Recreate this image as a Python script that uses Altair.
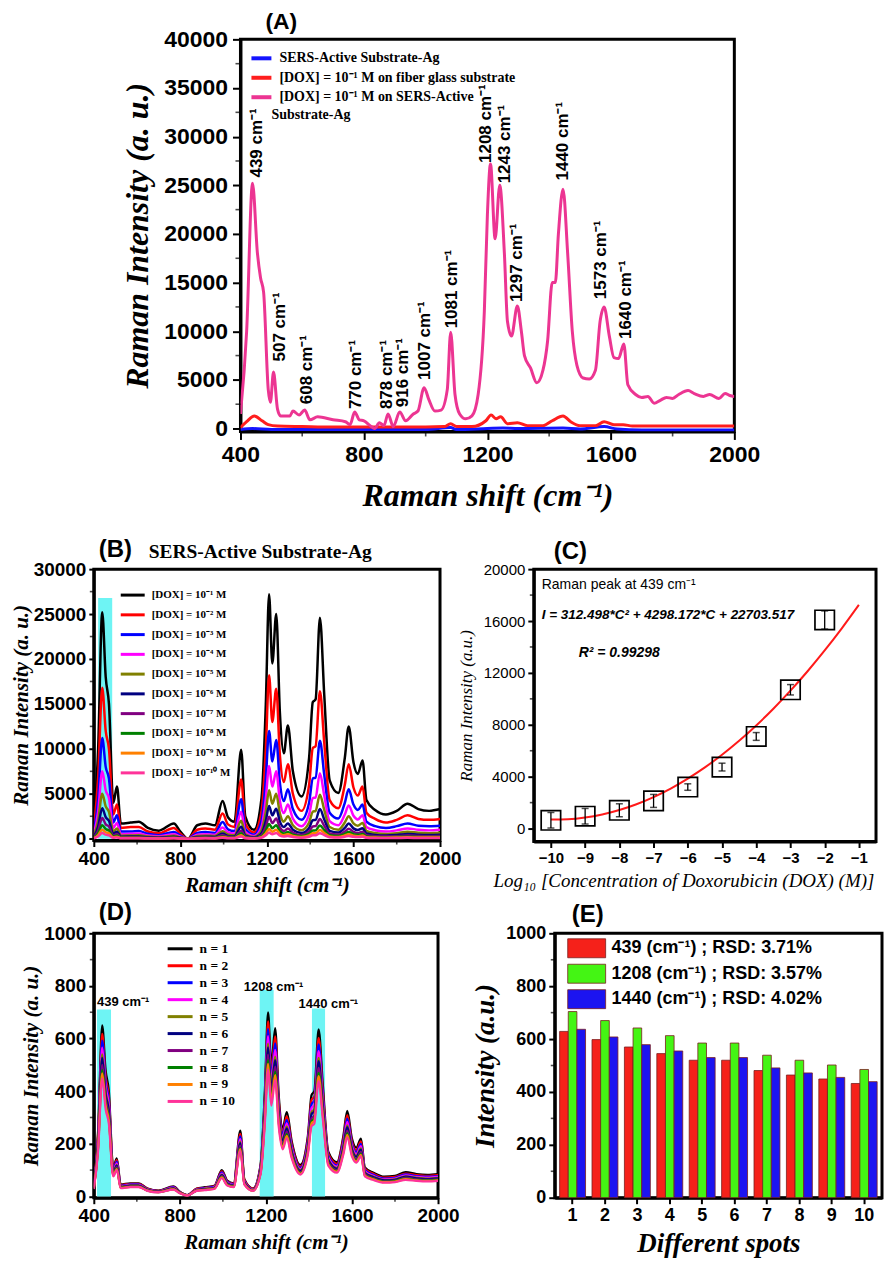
import altair as alt
import pandas as pd

SANS = "Liberation Sans"
SERIF = "Liberation Serif"

# ---------------- Panel A data ----------------
a_x = [400,420,439,455,465,475,490,497,507,520,530,560,570,590,608,625,650,700,740,755,
       770,785,800,820,835,850,865,878,895,916,935,960,975,995,1010,1030,1050,1070,1081,1095,
       1110,1130,1150,1170,1190,1200,1210,1225,1240,1255,1265,1278,1297,1310,1320,1340,1360,1380,1395,1410,
       1420,1430,1445,1460,1475,1490,1510,1530,1550,1565,1578,1595,1610,1625,1642,1655,1680,1700,1720,1740,
       1760,1780,1800,1820,1850,1870,1900,1920,1950,1970,1985,2000]
a_pink = [1500,10000,25200,18000,15500,14000,4000,2700,5800,2000,1300,1300,1800,1400,1900,900,1200,900,700,400,
          1700,900,800,300,0,600,300,1500,200,1700,800,1500,1800,4200,3000,1800,1900,4000,9900,3500,
          1500,1000,1300,3500,12000,22000,27200,19500,25000,18000,11000,9500,12600,10000,7500,6200,4700,6000,9000,15000,
          15000,20000,24600,18000,10000,6500,5200,5100,6000,11000,12500,9500,7300,7200,8700,4500,3500,3200,3300,2600,
          2900,3200,3100,3500,3900,3600,3300,3500,3100,3600,3400,3300]
a_red_x = [400,420,445,470,490,520,600,700,800,900,1000,1060,1081,1100,1150,1195,1212,1228,1243,1265,
           1297,1330,1380,1410,1445,1470,1500,1550,1578,1610,1640,1670,1750,1850,2000]
a_red = [100,700,1300,800,400,250,200,150,150,150,150,200,500,200,200,800,1400,1000,1200,500,
         600,300,300,800,1300,700,300,300,700,400,400,250,250,250,250]
a_blue_x = [400,440,500,800,1000,1081,1100,1200,1250,1300,1445,1500,1578,1620,1700,2000]
a_blue = [-100,0,-100,-100,-100,100,-100,0,50,0,50,-50,200,-50,-150,-150]
a_names = ["SERS-Active  Substrate-Ag",
           "[DOX] = 10⁻¹ M on  fiber glass substrate",
           "[DOX] = 10⁻¹ M on SERS-Active"]
a_legend_wrap = ["Substrate-Ag"]
a_colors = ["#1414ff", "#ff1e1e", "#ec3592"]
a_peak_labels = ["439 cm⁻¹","507 cm⁻¹","608 cm⁻¹","770 cm⁻¹","878 cm⁻¹","916 cm⁻¹","1007 cm⁻¹",
                 "1081 cm⁻¹","1208 cm⁻¹","1243 cm⁻¹","1297 cm⁻¹","1440 cm⁻¹","1573 cm⁻¹","1640 cm⁻¹"]
a_peak_x = [454,529,617,773,875,927,998,1086,1196,1256,1296,1446,1568,1650]
a_peak_y = [25800,6900,2500,2000,2000,2200,5000,10300,27300,25200,13000,25500,13300,9200]
a_minor_x = [600, 1000, 1400, 1800]
a_minor_y = [2500, 7500, 12500, 17500, 22500, 27500, 32500, 37500]

# ---------------- Panel B data ----------------
b_x = [400,420,439,455,470,490,507,525,570,608,650,700,770,800,835,878,916,960,995,1020,
       1050,1081,1100,1140,1175,1195,1210,1225,1243,1260,1278,1297,1320,1360,1395,1412,1425,1445,1465,1490,
       1530,1560,1578,1600,1620,1642,1660,1700,1750,1800,1850,1900,1950,2000]
b_y1 = [1500,10000,25200,18000,15000,4000,5800,1700,1800,1900,1200,900,1700,800,0,1500,1700,1500,4200,2400,
        1900,9900,2500,1000,4500,15000,27200,19500,25000,14000,9500,12600,7500,4700,9000,15200,15500,24600,16000,6500,
        5100,9000,12500,8500,7200,8700,4300,3200,2700,3100,3900,3300,3100,3300]
b_y2 = [1000,6800,16800,12000,10000,2700,3800,1200,1300,1300,800,600,1200,550,0,1000,1150,1000,2800,1600,
        1300,6600,1700,700,3000,10000,18200,13000,16700,9300,6300,8300,5000,3100,6000,10100,10300,16400,10700,4300,
        3400,6000,8300,5700,4800,5800,2900,2200,1800,2100,2600,2200,2100,2200]
b_y3 = [700,4400,11200,8000,6700,1800,2600,800,800,850,550,400,750,350,0,650,750,650,1850,1050,
        850,4400,1100,450,2000,6700,12000,8600,11000,6200,4200,5500,3300,2100,4000,6700,6800,10900,7100,2900,
        2250,4000,5500,3800,3200,3800,1900,1400,1200,1400,1700,1450,1400,1450]
b_y4 = [450,3000,7500,5400,4500,1200,1750,500,550,570,360,270,500,240,0,450,500,450,1250,720,
        570,3000,750,300,1350,4500,8100,5800,7500,4200,2850,3800,2250,1400,2700,4500,4600,7300,4800,1950,
        1500,2700,3700,2550,2150,2600,1300,950,800,930,1150,1000,930,1000]
b_y5 = [300,2000,5000,3600,3000,800,1150,340,360,380,240,180,340,160,0,300,340,300,840,480,
        380,2000,500,200,900,3000,5400,3900,5000,2800,1900,2500,1500,940,1800,3000,3100,4900,3200,1300,
        1000,1800,2500,1700,1450,1750,860,640,540,620,780,660,620,660]
b_y6 = [200,1350,3400,2400,2000,540,780,230,240,260,160,120,230,110,0,200,230,200,570,320,
        260,1340,340,135,610,2000,3650,2600,3350,1900,1300,1700,1000,630,1200,2050,2100,3300,2150,880,
        690,1200,1700,1150,970,1170,580,430,360,420,530,450,420,450]
b_y7 = [135,900,2300,1600,1350,360,520,150,160,170,110,80,150,70,0,135,150,135,380,215,
        170,900,225,90,400,1350,2450,1750,2250,1260,850,1130,680,420,800,1370,1400,2200,1440,590,
        460,800,1120,770,650,780,390,290,240,280,350,300,280,300]
b_y8 = [90,600,1500,1080,900,240,350,100,110,115,70,55,100,50,0,90,100,90,250,145,
        115,600,150,60,270,900,1630,1170,1500,840,570,760,450,280,540,910,930,1480,960,390,
        310,540,750,510,430,520,260,190,160,190,230,200,190,200]
b_y9 = [60,400,1000,720,600,160,230,70,70,75,50,35,70,30,0,60,70,60,170,95,
        75,400,100,40,180,600,1090,780,1000,560,380,500,300,190,360,610,620,980,640,260,
        200,360,500,340,290,350,170,130,110,125,155,130,125,130]
b_y10 = [40,250,630,450,380,100,145,40,45,48,30,22,42,20,0,38,42,38,105,60,
         48,250,62,25,110,380,680,490,630,350,240,315,190,120,225,380,390,620,400,160,
         130,225,310,210,180,220,110,80,68,78,98,82,78,82]
b_names = ["[DOX] = 10⁻¹ M", "[DOX] = 10⁻² M", "[DOX] = 10⁻³ M", "[DOX] = 10⁻⁴ M", "[DOX] = 10⁻⁵ M",
           "[DOX] = 10⁻⁶ M", "[DOX] = 10⁻⁷ M", "[DOX] = 10⁻⁸ M", "[DOX] = 10⁻⁹ M", "[DOX] = 10⁻¹⁰ M"]
spec_colors = ["#000000", "#ff0000", "#0000ff", "#ff00ff", "#808000",
               "#000080", "#800080", "#008000", "#ff8000", "#ff3399"]
b_band = [420, 485, 26800]
b_minor_x = [600, 1000, 1400, 1800]
b_minor_y = [2500, 7500, 12500, 17500, 22500, 27500]

# ---------------- Panel C data ----------------
c_x = [-10, -9, -8, -7, -6, -5, -4, -3, -2]
c_y = [640, 950, 1410, 2130, 3200, 4740, 7100, 10700, 16080]
c_err = [600, 600, 500, 500, 250, 300, 300, 400, 700]
c_fit_x = [-10, -9.5, -9, -8.5, -8, -7.5, -7, -6.5, -6, -5.5, -5, -4.5, -4, -3.5, -3, -2.5, -2, -1.5, -1]
c_fit_y = [690, 718, 850, 1087, 1430, 1877, 2430, 3087, 3850, 4717, 5690, 6767, 7950, 9237, 10630,
           12127, 13730, 15437, 17250]
c_ticks_x = [-10, -9, -8, -7, -6, -5, -4, -3, -2, -1]
c_ticks_y = [0, 4000, 8000, 12000, 16000, 20000]
c_minor_y = [2000, 6000, 10000, 14000, 18000]
c_notes = ["Raman peak at 439 cm⁻¹", "I = 312.498*C² + 4298.172*C + 22703.517", "R² = 0.99298"]

# ---------------- Panel D data ----------------
d_n1 = [40,250,650,480,400,110,145,45,50,50,30,22,38,18,5,30,35,40,100,60,
        50,250,65,30,120,400,700,500,640,380,260,320,210,120,230,385,400,635,420,170,
        130,230,325,220,185,220,110,90,75,78,92,85,82,85]
d_n2 = [38,238,618,456,380,105,138,43,48,48,29,21,36,17,5,29,33,38,95,57,
        48,238,62,29,114,380,665,475,608,361,247,304,200,114,219,366,380,603,399,162,
        124,219,309,209,176,209,105,86,71,74,87,81,78,81]
d_n3 = [36,228,592,437,364,100,132,41,46,46,27,20,35,16,5,27,32,36,91,55,
        46,228,59,27,109,364,637,455,582,346,237,291,191,109,209,350,364,578,382,155,
        118,209,296,200,168,200,100,82,68,71,84,77,75,77]
d_n4 = [35,218,566,418,348,96,126,39,44,44,26,19,33,16,4,26,30,35,87,52,
        44,218,57,26,104,348,609,435,557,331,226,278,183,104,200,335,348,552,365,148,
        113,200,283,191,161,191,96,78,65,68,80,74,71,74]
d_n5 = [33,208,540,398,332,91,120,37,42,42,25,18,32,15,4,25,29,33,83,50,
        42,208,54,25,100,332,581,415,531,315,216,266,174,100,191,320,332,527,349,141,
        108,191,270,183,154,183,91,75,62,65,76,71,68,71]
d_n6 = [32,203,527,389,324,89,117,36,41,41,24,18,31,15,4,24,28,32,81,49,
        41,203,53,24,97,324,567,405,518,308,211,259,170,97,186,312,324,514,340,138,
        105,186,263,178,150,178,89,73,61,63,75,69,66,69]
d_n7 = [31,193,500,370,308,85,112,35,39,39,23,17,29,14,4,23,27,31,77,46,
        39,193,50,23,92,308,539,385,493,293,200,246,162,92,177,296,308,489,323,131,
        100,177,250,169,142,169,85,69,58,60,71,65,63,65]
d_n8 = [30,185,481,355,296,81,107,33,37,37,22,16,28,13,4,22,26,30,74,44,
        37,185,48,22,89,296,518,370,474,281,192,237,155,89,170,285,296,470,311,126,
        96,170,241,163,137,163,81,67,56,58,68,63,61,63]
d_n9 = [29,180,468,346,288,79,104,32,36,36,22,16,27,13,4,22,25,29,72,43,
        36,180,47,22,86,288,504,360,461,274,187,230,151,86,166,277,288,457,302,122,
        94,166,234,158,133,158,79,65,54,56,66,61,59,61]
d_n10 = [28,173,449,331,276,76,100,31,35,35,21,15,26,12,3,21,24,28,69,41,
         35,173,45,21,83,276,483,345,442,262,179,221,145,83,159,266,276,438,290,117,
         90,159,224,152,128,152,76,62,52,54,63,59,57,59]
d_names = ["n = 1", "n = 2", "n = 3", "n = 4", "n = 5", "n = 6", "n = 7", "n = 8", "n = 9", "n = 10"]
d_band_x1 = [415, 1171, 1414]
d_band_x2 = [480, 1236, 1475]
d_band_top = [710, 785, 714]
d_labels = ["439 cm⁻¹", "1208 cm⁻¹", "1440 cm⁻¹"]
d_label_x = [415, 1097, 1352]
d_label_y = [738, 796, 730]
d_minor_y = [100, 300, 500, 700, 900]

# ---------------- Panel E data ----------------
e_spots = [1, 2, 3, 4, 5, 6, 7, 8, 9, 10]
e_439 = [629, 598, 570, 545, 520, 520, 481, 464, 449, 432]
e_1208 = [704, 670, 642, 613, 585, 585, 539, 520, 502, 485]
e_1440 = [637, 608, 579, 555, 530, 530, 491, 472, 455, 439]
e_names = ["439 (cm⁻¹) ; RSD: 3.71%", "1208 (cm⁻¹) ; RSD: 3.57%", "1440 (cm⁻¹) ;  RSD: 4.02%"]
e_colors = ["#f5211a", "#44f514", "#1c14f0"]
e_minor_y = [100, 300, 500, 700, 900]

panel_tags = ["(A)", "(B)", "(C)", "(D)", "(E)"]


def long_df(xs, ys_list, names, key):
    rows = []
    for name, x_arr, y_arr in zip(names, xs, ys_list):
        for xv, yv in zip(x_arr, y_arr):
            rows.append({"x": xv, "y": yv, key: name})
    return pd.DataFrame(rows)


def ax(values, title, lsize, tsize, tweight="bold", tstyle="italic", lweight="bold",
       tpad=4, lpad=3, ticksize=6, **kw):
    return alt.Axis(values=values, title=title, format="d", labelFont=SANS, labelFontSize=lsize,
                    labelFontWeight=lweight, titleFont=SERIF, titleFontSize=tsize,
                    titleFontStyle=tstyle, titleFontWeight=tweight, titlePadding=tpad,
                    labelPadding=lpad, tickSize=ticksize, tickWidth=2, domainWidth=3,
                    labelFlush=False, labelOverlap=False, labelSeparation=0, grid=False, **kw)


def tag(i, dx, dy, size=24):
    return alt.Chart(pd.DataFrame({"t": [panel_tags[i]]})).mark_text(
        align="left", baseline="middle", font=SANS, fontSize=size, fontWeight="bold", color="black").encode(
        x=alt.value(dx), y=alt.value(dy), text="t:N")


def minor_y(vals, scale, size=4):
    return alt.Chart(pd.DataFrame({"v": vals})).mark_tick(
        orient="horizontal", size=size, thickness=1.6, color="black").encode(
        x=alt.value(-size / 2), y=alt.Y("v:Q", scale=scale))


def minor_x(vals, scale, h, size=4):
    return alt.Chart(pd.DataFrame({"v": vals})).mark_tick(
        orient="vertical", size=size, thickness=1.6, color="black").encode(
        y=alt.value(h + size / 2), x=alt.X("v:Q", scale=scale))


# ---------------- Panel A ----------------
A_W, A_H = 495, 393
a_df = long_df([a_blue_x, a_red_x, a_x], [a_blue, a_red, a_pink], a_names, "series")
a_xs = alt.Scale(domain=[400, 2000], nice=False)
a_ys = alt.Scale(domain=[-300, 40000], nice=False)
a_lines = alt.Chart(a_df).mark_line(strokeWidth=3, clip=True, interpolate="monotone").encode(
    x=alt.X("x:Q", scale=a_xs, axis=ax([400, 800, 1200, 1600, 2000], "Raman shift (cm⁻¹)", 23, 32,
                                       tpad=14, lpad=4, ticksize=8)),
    y=alt.Y("y:Q", scale=a_ys, axis=ax(list(range(0, 40001, 5000)), "Raman Intensity (a. u.)", 23, 32,
                                       tpad=9, lpad=5, ticksize=8)),
    color=alt.Color("series:N", scale=alt.Scale(domain=a_names, range=a_colors),
                    legend=alt.Legend(title=None, orient="none", legendX=12, legendY=10,
                                      symbolType="M-1.5,0H1.5", symbolSize=178, symbolStrokeWidth=4,
                                      labelFont=SERIF, labelFontSize=14, labelFontWeight="bold",
                                      labelLimit=500, labelOffset=9, rowPadding=2.5, padding=0)),
)
a_wrap = alt.Chart(pd.DataFrame({"t": a_legend_wrap})).mark_text(
    align="left", baseline="middle", font=SERIF, fontSize=14, fontWeight="bold", color="black").encode(
    x=alt.value(31), y=alt.value(76), text="t:N")
a_peak_df = pd.DataFrame({"x": a_peak_x, "y": a_peak_y, "t": a_peak_labels})
a_peaks = alt.Chart(a_peak_df).mark_text(angle=270, align="left", baseline="middle", font=SANS,
                                         fontSize=17, fontWeight="bold", color="black").encode(
    x=alt.X("x:Q", scale=a_xs), y=alt.Y("y:Q", scale=a_ys), text="t:N")
panel_a = alt.layer(a_lines, a_wrap, a_peaks, minor_y(a_minor_y, a_ys, 5), minor_x(a_minor_x, a_xs, A_H, 5),
                    tag(0, 25, -17, 23)).properties(width=A_W, height=A_H)

spacer = alt.Chart(pd.DataFrame({"v": [0]})).mark_point(opacity=0).encode(
    x=alt.value(0), y=alt.value(0)).properties(width=14, height=10,
                                               view=alt.ViewBackground(strokeOpacity=0))

# ---------------- Panel B ----------------
B_W, B_H = 347, 272
b_df = long_df([b_x] * 10, [b_y1, b_y2, b_y3, b_y4, b_y5, b_y6, b_y7, b_y8, b_y9, b_y10], b_names, "conc")
b_xs = alt.Scale(domain=[400, 2000], nice=False)
b_ys = alt.Scale(domain=[-200, 30000], nice=False)
b_band_df = pd.DataFrame({"x1": [b_band[0]], "x2": [b_band[1]], "y1": [0], "y2": [b_band[2]]})
b_rect = alt.Chart(b_band_df).mark_rect(color="#6ef4f4").encode(
    x=alt.X("x1:Q", scale=b_xs, axis=ax([400, 800, 1200, 1600, 2000], "Raman shift (cm⁻¹)", 19, 21,
                                       tpad=6)),
    x2="x2:Q",
    y=alt.Y("y1:Q", scale=b_ys, axis=ax(list(range(0, 30001, 5000)), "Raman Intensity (a. u.)", 19, 21,
                                       tpad=2, ticksize=5)),
    y2="y2:Q")
b_lines = alt.Chart(b_df).mark_line(strokeWidth=2.5, clip=True, interpolate="monotone").encode(
    x=alt.X("x:Q", scale=b_xs), y=alt.Y("y:Q", scale=b_ys),
    color=alt.Color("conc:N", scale=alt.Scale(domain=b_names, range=spec_colors),
                    legend=alt.Legend(title=None, orient="none", legendX=30, legendY=17,
                                      symbolType="M-1.6,0H1.6", symbolSize=225, symbolStrokeWidth=3,
                                      labelFont=SERIF, labelFontSize=11, labelFontWeight="bold",
                                      labelOffset=10, rowPadding=4.8, padding=0)))
b_head = alt.Chart(pd.DataFrame({"t": ["SERS-Active Substrate-Ag"]})).mark_text(
    align="left", baseline="middle", font=SERIF, fontSize=19.5, fontWeight="bold", color="black").encode(
    x=alt.value(55), y=alt.value(-17), text="t:N")
panel_b = alt.layer(b_rect, b_lines, b_head, minor_y(b_minor_y, b_ys), minor_x(b_minor_x, b_xs, B_H),
                    tag(1, 5, -19)).properties(width=B_W, height=B_H)

# ---------------- Panel C ----------------
C_W, C_H = 343, 273
c_df = pd.DataFrame({"x": c_x, "y": c_y, "lo": [y - e for y, e in zip(c_y, c_err)],
                     "hi": [y + e for y, e in zip(c_y, c_err)]})
c_fit_df = pd.DataFrame({"x": c_fit_x, "y": c_fit_y})
c_xs = alt.Scale(domain=[-10.5, -0.5], nice=False)
c_ys = alt.Scale(domain=[-1000, 20000], nice=False)
c_xaxis = ax(c_ticks_x, "Log₁₀ [Concentration of Doxorubicin (DOX) (M)]", 15, 19, tweight="normal",
             lweight="bold", tpad=6, titleX=150, titleAlign="center")
c_yaxis = ax(c_ticks_y, "Raman Intensity (a.u.)", 15, 17, tweight="normal", lweight="normal", tpad=8)
c_fit = alt.Chart(c_fit_df).mark_line(color="#ff1a1a", strokeWidth=2, interpolate="monotone").encode(
    x=alt.X("x:Q", scale=c_xs, axis=c_xaxis), y=alt.Y("y:Q", scale=c_ys, axis=c_yaxis))
c_rule = alt.Chart(c_df).mark_rule(color="black", strokeWidth=1.3).encode(
    x=alt.X("x:Q", scale=c_xs, axis=c_xaxis), y=alt.Y("lo:Q", scale=c_ys, axis=c_yaxis), y2="hi:Q")
c_cap_lo = alt.Chart(c_df).mark_tick(color="black", orient="horizontal", size=7, thickness=1.5).encode(
    x=alt.X("x:Q", scale=c_xs, axis=c_xaxis), y=alt.Y("lo:Q", scale=c_ys, axis=c_yaxis))
c_cap_hi = alt.Chart(c_df).mark_tick(color="black", orient="horizontal", size=7, thickness=1.5).encode(
    x=alt.X("x:Q", scale=c_xs, axis=c_xaxis), y=alt.Y("hi:Q", scale=c_ys, axis=c_yaxis))
c_pts = alt.Chart(c_df).mark_point(shape="square", filled=False, size=380, color="black",
                                   strokeWidth=1.7, opacity=1).encode(
    x=alt.X("x:Q", scale=c_xs, axis=c_xaxis), y=alt.Y("y:Q", scale=c_ys, axis=c_yaxis))
c_note_df = pd.DataFrame({"t": c_notes})
c_t1 = alt.Chart(c_note_df.iloc[[0]]).mark_text(align="left", baseline="middle", font=SANS, fontSize=14,
                                                color="black").encode(x=alt.value(8), y=alt.value(16), text="t:N")
c_t2 = alt.Chart(c_note_df.iloc[[1]]).mark_text(align="left", baseline="middle", font=SANS, fontSize=13.5,
                                                fontStyle="italic", fontWeight="bold", color="black").encode(
    x=alt.value(8), y=alt.value(46), text="t:N")
c_t3 = alt.Chart(c_note_df.iloc[[2]]).mark_text(align="left", baseline="middle", font=SANS, fontSize=14,
                                                fontStyle="italic", fontWeight="bold", color="black").encode(
    x=alt.value(45), y=alt.value(84), text="t:N")
panel_c = alt.layer(c_fit, c_rule, c_cap_lo, c_cap_hi, c_pts, c_t1, c_t2, c_t3, minor_y(c_minor_y, c_ys),
                    tag(2, 20, -17)).properties(width=C_W, height=C_H)

# ---------------- Panel D ----------------
D_W, D_H = 345, 265
d_df = long_df([b_x] * 10, [d_n1, d_n2, d_n3, d_n4, d_n5, d_n6, d_n7, d_n8, d_n9, d_n10], d_names, "n")
d_xs = alt.Scale(domain=[400, 2000], nice=False)
d_ys = alt.Scale(domain=[-5, 1000], nice=False)
d_band_df = pd.DataFrame({"x1": d_band_x1, "x2": d_band_x2, "y1": [0, 0, 0], "y2": d_band_top})
d_rect = alt.Chart(d_band_df).mark_rect(color="#6ef4f4").encode(
    x=alt.X("x1:Q", scale=d_xs, axis=ax([400, 800, 1200, 1600, 2000], "Raman shift (cm⁻¹)", 19, 21,
                                       tpad=6)),
    x2="x2:Q",
    y=alt.Y("y1:Q", scale=d_ys, axis=ax(list(range(0, 1001, 200)), "Raman Intensity (a. u.)", 19, 21,
                                       tpad=2, ticksize=5)),
    y2="y2:Q")
d_lines = alt.Chart(d_df).mark_line(strokeWidth=2.2, clip=True, interpolate="monotone").encode(
    x=alt.X("x:Q", scale=d_xs), y=alt.Y("y:Q", scale=d_ys),
    color=alt.Color("n:N", scale=alt.Scale(domain=d_names, range=spec_colors),
                    legend=alt.Legend(title=None, orient="none", legendX=77, legendY=6,
                                      symbolType="M-1.6,0H1.6", symbolSize=244, symbolStrokeWidth=3,
                                      labelFont=SERIF, labelFontSize=13.5, labelFontWeight="bold",
                                      labelOffset=10, rowPadding=1, padding=0)))
d_lab_df = pd.DataFrame({"x": d_label_x, "y": d_label_y, "t": d_labels})
d_text = alt.Chart(d_lab_df).mark_text(align="left", baseline="middle", font=SANS, fontSize=13,
                                       fontWeight="bold", color="black").encode(
    x=alt.X("x:Q", scale=d_xs), y=alt.Y("y:Q", scale=d_ys), text="t:N")
panel_d = alt.layer(d_rect, d_lines, d_text, minor_y(d_minor_y, d_ys), minor_x(b_minor_x, d_xs, D_H),
                    tag(3, 5, -20)).properties(width=D_W, height=D_H)

# ---------------- Panel E ----------------
E_W, E_H = 328, 265
e_rows = []
for name, vals in zip(e_names, [e_439, e_1208, e_1440]):
    for s, v in zip(e_spots, vals):
        e_rows.append({"spot": s, "peak": name, "v": v})
e_df = pd.DataFrame(e_rows)
e_ys = alt.Scale(domain=[0, 1000], nice=False)
e_bars = alt.Chart(e_df).mark_bar(stroke="#7a1e1e", strokeWidth=0.8).encode(
    x=alt.X("spot:O", scale=alt.Scale(paddingInner=0.2, paddingOuter=0.15),
            axis=alt.Axis(title="Different spots", labelFont=SANS, labelFontSize=18, labelFontWeight="bold",
                          labelAngle=0, titleFont=SERIF, titleFontSize=27, titleFontStyle="italic",
                          titleFontWeight="bold", titlePadding=6, labelPadding=3, tickSize=6, tickWidth=2,
                          domainWidth=3, grid=False)),
    xOffset=alt.XOffset("peak:N", scale=alt.Scale(domain=e_names)),
    y=alt.Y("v:Q", scale=e_ys, axis=ax(list(range(0, 1001, 200)), "Intensity (a.u.)", 18, 27, tpad=6)),
    color=alt.Color("peak:N", scale=alt.Scale(domain=e_names, range=e_colors),
                    legend=alt.Legend(title=None, orient="none", legendX=22, legendY=5,
                                      symbolType="M-2,-1H2V1H-2Z", symbolSize=361, symbolOpacity=1,
                                      symbolStrokeColor="#7a1e1e", symbolStrokeWidth=0.8,
                                      labelFont=SANS, labelFontSize=18, labelFontWeight="bold",
                                      labelOffset=15, rowPadding=1.5, padding=0, labelLimit=400)),
)
panel_e = alt.layer(e_bars, minor_y(e_minor_y, e_ys), tag(4, 17, -18)).properties(width=E_W, height=E_H)

# ---------------- Layout ----------------
row1 = alt.hconcat(spacer, panel_a, spacing=12, center=False).resolve_scale(color="independent")
row2 = alt.hconcat(panel_b, panel_c, spacing=94, bounds="flush", center=False).resolve_scale(
    color="independent")
row3 = alt.hconcat(panel_d, panel_e, spacing=117, bounds="flush", center=False).resolve_scale(
    color="independent")
bottom = alt.vconcat(row2, row3, spacing=2, center=False).resolve_scale(color="independent")
chart = alt.vconcat(row1, bottom, spacing=23, center=False, padding=0).resolve_scale(
    color="independent").configure_view(stroke="black", strokeWidth=3).configure_axis(
    domainColor="black", tickColor="black", labelColor="black", titleColor="black",
    labelOverlap=False).configure_legend(labelColor="black")

chart.save("out.html", embed_options={"renderer": "svg", "actions": False})
